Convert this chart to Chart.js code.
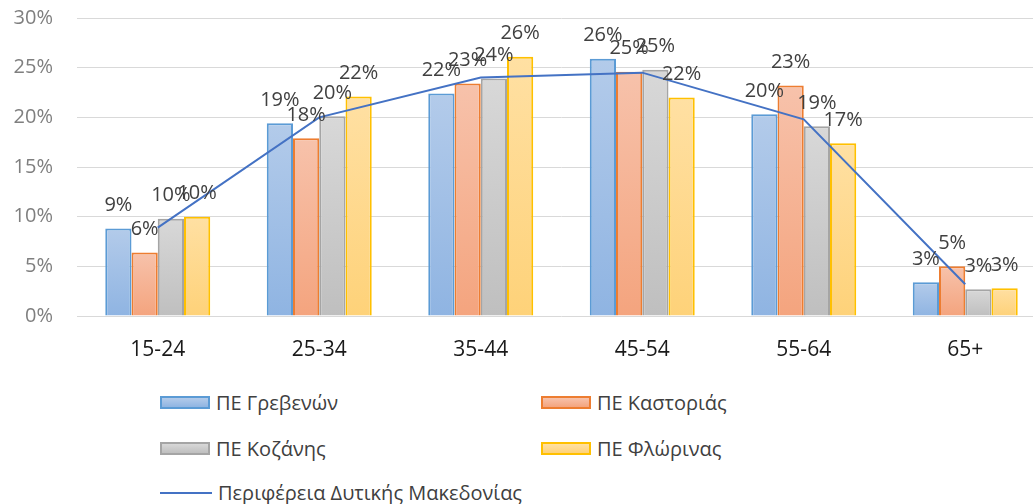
<!DOCTYPE html>
<html>
<head>
<meta charset="utf-8">
<script src="https://cdn.jsdelivr.net/npm/chart.js@4/dist/chart.umd.min.js"></script>
<style>
  body { margin: 0; background: #fff; overflow: hidden; width: 1033px; height: 504px; position: relative; }
  #wrap { position: absolute; left: 0; top: -18px; width: 1046px; height: 388px; }
  #legend { position: absolute; left: 0; top: 0; font-family: "Open Sans", sans-serif; font-size: 20px; color: #404040; }
  .item { position: absolute; display: flex; align-items: center; white-space: nowrap; }
  .box { width: 50px; height: 13px; margin-right: 6px; box-sizing: border-box; border: 2px solid; }
  .line { width: 52px; height: 2px; margin-right: 6px; }
</style>
</head>
<body>
<div id="wrap"><canvas id="chart" width="1046" height="388"></canvas></div>
<div id="legend"></div>
<script>
'use strict';

let ageGroups = ['15-24', '25-34', '35-44', '45-54', '55-64', '65+'];
let grevena = [8.8, 19.4, 22.4, 25.9, 20.3, 3.4];
let kastoria = [6.4, 17.9, 23.4, 24.6, 23.2, 5.0];
let kozani = [9.8, 20.1, 23.9, 24.8, 19.1, 2.7];
let florina = [10.0, 22.1, 26.1, 22.0, 17.4, 2.8];
let region = [8.9, 20.0, 24.0, 24.5, 19.8, 3.2];
let yTicks = [0, 5, 10, 15, 20, 25, 30];

// colours: border, gradient top, gradient bottom
let barStyles = [
    { border: '#5B9BD5', top: '#b3cbea', bottom: '#8fb4e2' },
    { border: '#ED7D31', top: '#f7c2ab', bottom: '#f4a47e' },
    { border: '#A5A5A5', top: '#d8d8d8', bottom: '#bfbfbf' },
    { border: '#FFC000', top: '#ffe0a3', bottom: '#fed279' }
];

function gradientFor(style) {
    return function (ctx) {
        let chart = ctx.chart;
        if (!chart.chartArea || ctx.raw === undefined) return style.bottom;
        let yScale = chart.scales.y;
        let y0 = yScale.getPixelForValue(ctx.raw);
        let y1 = yScale.getPixelForValue(0);
        let g = chart.ctx.createLinearGradient(0, y0, 0, y1);
        g.addColorStop(0, style.top);
        g.addColorStop(1, style.bottom);
        return g;
    };
}

function barSet(label, data, style) {
    return {
        type: 'bar',
        label: label,
        data: data,
        backgroundColor: gradientFor(style),
        borderColor: style.border,
        borderWidth: 2,
        borderSkipped: 'bottom',
        order: 1
    };
}

// data labels above each bar
let barLabels = {
    id: 'barLabels',
    afterDatasetsDraw(chart) {
        let ctx = chart.ctx;
        ctx.save();
        ctx.font = '20px "Open Sans", sans-serif';
        ctx.fillStyle = '#404040';
        ctx.textAlign = 'center';
        ctx.textBaseline = 'middle';
        chart.data.datasets.forEach((ds, i) => {
            if (ds.type !== 'bar') return;
            let meta = chart.getDatasetMeta(i);
            meta.data.forEach((bar, j) => {
                ctx.fillText(Math.round(ds.data[j]) + '%', bar.x, bar.y - 23);
            });
        });
        ctx.restore();
    }
};

let chartObj = {
    data: {
        labels: ageGroups,
        datasets: [
            barSet('ΠΕ Γρεβενών', grevena, barStyles[0]),
            barSet('ΠΕ Καστοριάς', kastoria, barStyles[1]),
            barSet('ΠΕ Κοζάνης', kozani, barStyles[2]),
            barSet('ΠΕ Φλώρινας', florina, barStyles[3]),
            {
                type: 'line',
                label: 'Περιφέρεια Δυτικής Μακεδονίας',
                data: region,
                borderColor: '#4472C4',
                borderWidth: 2,
                pointRadius: 0,
                tension: 0,
                fill: false,
                order: 0
            }
        ]
    },
    options: {
        responsive: false,
        animation: false,
        devicePixelRatio: 1,
        layout: { padding: 0 },
        datasets: { bar: { barPercentage: 1, categoryPercentage: 0.65 } },
        plugins: { legend: { display: false }, tooltip: { enabled: false } },
        scales: {
            x: {
                grid: { display: false, drawTicks: false },
                border: { display: false },
                ticks: { color: '#1a1a1a', padding: 21, font: { family: '"Open Sans"', size: 21 } },
                afterFit: (s) => { s.height = 54; }
            },
            y: {
                min: 0,
                max: 30,
                afterBuildTicks: (s) => { s.ticks = yTicks.map(v => ({ value: v })); },
                grid: { color: '#d9d9d9', lineWidth: 1, drawTicks: false },
                border: { display: false },
                ticks: {
                    color: '#7f7f7f',
                    padding: 24,
                    font: { family: '"Open Sans"', size: 20 },
                    callback: (v) => v + '%'
                },
                afterFit: (s) => { s.width = 77; }
            }
        }
    },
    plugins: [barLabels]
};

let chart = new Chart(document.getElementById('chart'), chartObj);

// legend laid out in two columns like the original
let legendPos = [[160, 403], [541, 403], [160, 449], [541, 449], [160, 493]];
let legendElem = document.getElementById('legend');
chart.data.datasets.forEach((ds, i) => {
    let item = document.createElement('div');
    item.className = 'item';
    item.style.left = legendPos[i][0] + 'px';
    item.style.top = (legendPos[i][1] - 14) + 'px';
    let mark = document.createElement('span');
    if (ds.type === 'bar') {
        mark.className = 'box';
        mark.style.borderColor = barStyles[i].border;
        mark.style.background = 'linear-gradient(' + barStyles[i].top + ',' + barStyles[i].bottom + ')';
    } else {
        mark.className = 'line';
        mark.style.background = ds.borderColor;
    }
    let text = document.createElement('span');
    text.textContent = ds.label;
    item.appendChild(mark);
    item.appendChild(text);
    legendElem.appendChild(item);
});
</script>
</body>
</html>
